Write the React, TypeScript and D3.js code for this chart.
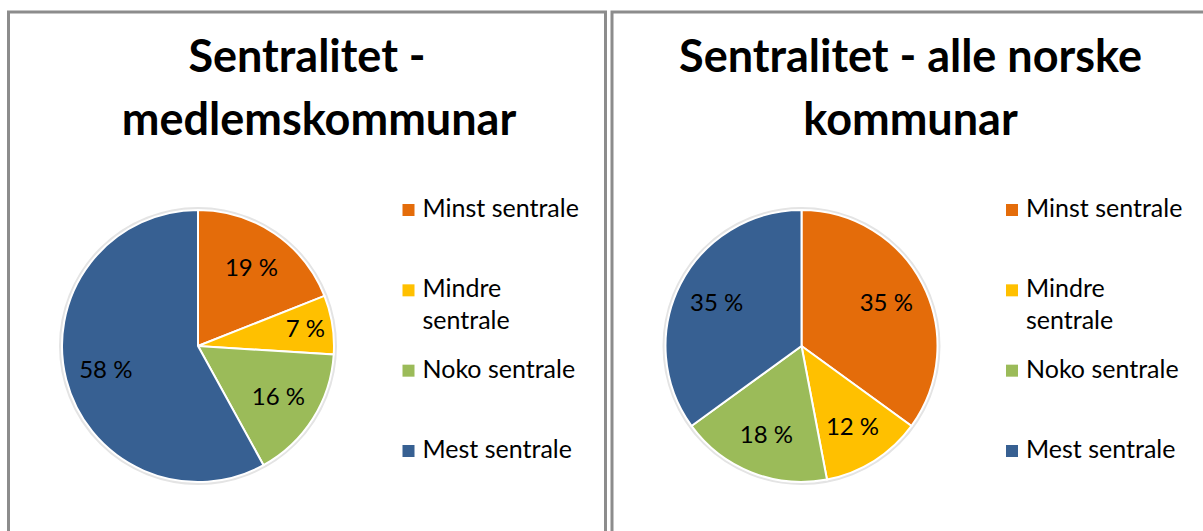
import React from "react";
import * as d3 from "d3";

const categories = ["Minst sentrale", "Mindre sentrale", "Noko sentrale", "Mest sentrale"];
const legendLabels = [["Minst sentrale"], ["Mindre", "sentrale"], ["Noko sentrale"], ["Mest sentrale"]];
const memberShares = [19, 7, 16, 58];
const nationalShares = [35, 12, 18, 35];
const memberTitle = ["Sentralitet -", "medlemskommunar"];
const nationalTitle = ["Sentralitet - alle norske", "kommunar"];

const colors = ["#E46C0A", "#FFC000", "#9BBB59", "#376092"];
const FONT = "Lato, 'Open Sans', sans-serif";

const W = 1203;
const H = 531;
const PANEL_W = 597;
const R = 136;

interface PanelProps {
  x: number;
  title: string[];
  titleDx: number[];
  values: number[];
}

const Panel: React.FC<PanelProps> = ({ x, title, titleDx, values }) => {
  const cx = 189.5;
  const cy = 346;

  const color = d3.scaleOrdinal<string, string>().domain(categories).range(colors);

  const data = categories.map((c, i) => ({ label: c, value: values[i] }));
  const pie = d3
    .pie<{ label: string; value: number }>()
    .sort(null)
    .value((d) => d.value);
  const arcs = pie(data);
  const total = d3.sum(values);

  const arc = d3
    .arc<d3.PieArcDatum<{ label: string; value: number }>>()
    .innerRadius(0)
    .outerRadius(R);

  // small slices get their label pushed outward, like Excel's best fit
  const labelArc = (d: d3.PieArcDatum<{ label: string; value: number }>) => {
    const r = d.value / total < 0.1 ? R * 0.8 : R * 0.7;
    return d3
      .arc<d3.PieArcDatum<{ label: string; value: number }>>()
      .innerRadius(r)
      .outerRadius(r)
      .centroid(d);
  };

  const legendY = d3.scaleLinear().domain([0, 3]).range([217, 458]);

  return (
    <g transform={`translate(${x}, 0)`}>
      <rect x={0} y={12} width={PANEL_W} height={H + 20} fill="#fff" stroke="#8c8c8c" strokeWidth={3} />
      {title.map((t, i) => (
        <text
          key={i}
          x={PANEL_W / 2 + (titleDx[i] ?? 0)}
          y={72 + i * 63}
          textAnchor="middle"
          fontFamily={FONT}
          fontWeight={700}
          fontSize={45}
          fill="#000"
        >
          {t}
        </text>
      ))}
      <g transform={`translate(${cx}, ${cy})`}>
        <circle r={R + 1.5} fill="none" stroke="#e4e4e4" strokeWidth={3} />
        {arcs.map((d, i) => (
          <path key={i} d={arc(d) ?? ""} fill={color(d.data.label)} stroke="#fff" strokeWidth={2} />
        ))}
        {arcs.map((d, i) => {
          const [lx, ly] = labelArc(d);
          return (
            <text
              key={i}
              x={lx}
              y={ly}
              dy="0.35em"
              textAnchor="middle"
              fontFamily={FONT}
              fontSize={24}
              fill="#000"
            >
              {`${d.data.value} %`}
            </text>
          );
        })}
      </g>
      <g transform="translate(394, 0)">
        {legendLabels.map((lines, i) => (
          <g key={i} transform={`translate(0, ${legendY(i)})`}>
            <rect x={0} y={-13} width={12} height={12} fill={color(categories[i])} />
            {lines.map((ln, j) => (
              <text key={j} x={20} y={j * 32} fontFamily={FONT} fontSize={25} fill="#000">
                {ln}
              </text>
            ))}
          </g>
        ))}
      </g>
    </g>
  );
};

const App: React.FC = () => {
  return (
    <svg width={W} height={H} style={{ position: "absolute", left: 0, top: 0, background: "#fff" }}>
      <Panel x={8.5} title={memberTitle} titleDx={[0, 12]} values={memberShares} />
      <Panel x={612} title={nationalTitle} titleDx={[0, 0]} values={nationalShares} />
    </svg>
  );
};

export default App;
